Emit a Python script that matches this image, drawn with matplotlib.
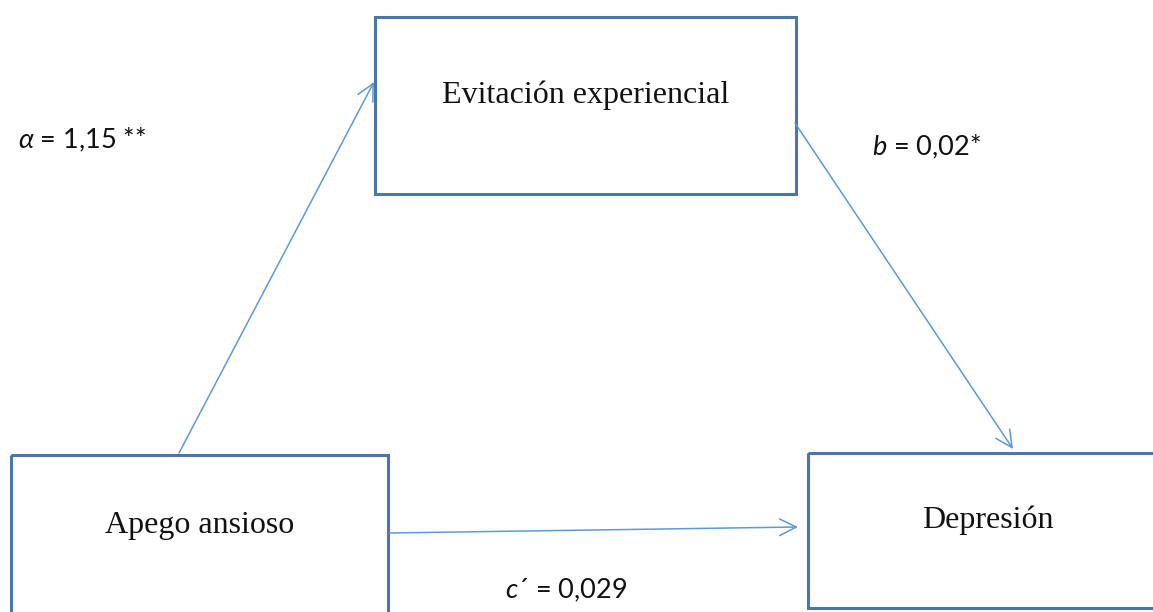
import matplotlib.pyplot as plt
from matplotlib.patches import Rectangle, FancyArrowPatch

# boxes: label, x, y (top), width, height  (pixel units of the page)
box_labels = ["Evitación experiencial", "Apego ansioso", "Depresión"]
box_x = [375, 11, 808]
box_y = [17, 455, 453]
box_w = [421, 377, 360]
box_h = [177, 170, 155]
text_y = [95, 525, 520]

# paths: coefficient label and its position
coef_labels = [r"$\alpha$ = 1,15 **", r"$b$ = 0,02*", r"$c$´ = 0,029"]
coef_x = [18, 872, 505]
coef_y = [140, 147, 590]

arrows = [((179, 453), (374, 82)),
          ((795, 123), (1013, 449)),
          ((389, 533), (798, 527))]

fig = plt.figure(figsize=(11.53, 6.12), dpi=100)
ax = fig.add_axes([0, 0, 1, 1])
ax.set_xlim(0, 1153)
ax.set_ylim(612, 0)
ax.axis("off")

edge = "#4a76a8"
line = "#5b9bd5"

for lab, x, y, w, h, ty in zip(box_labels, box_x, box_y, box_w, box_h, text_y):
    ax.add_patch(Rectangle((x, y), w, h, fill=False, ec=edge, lw=2.2))
    ax.text(x + w / 2, ty, lab, ha="center", va="center",
            family="Liberation Serif", fontsize=23, color="#111111")

for (p0, p1) in arrows:
    ax.add_patch(FancyArrowPatch(p0, p1, arrowstyle="->,head_length=12,head_width=6",
                                 color=line, lw=1.1, shrinkA=0, shrinkB=0))

plt.rcParams["mathtext.fontset"] = "custom"
plt.rcParams["mathtext.it"] = "Lato:italic"
for lab, x, y in zip(coef_labels, coef_x, coef_y):
    ax.text(x, y, lab, ha="left", va="center", family="Lato", fontsize=19.5,
            color="#111111")

fig.savefig("out.png", dpi=100)
